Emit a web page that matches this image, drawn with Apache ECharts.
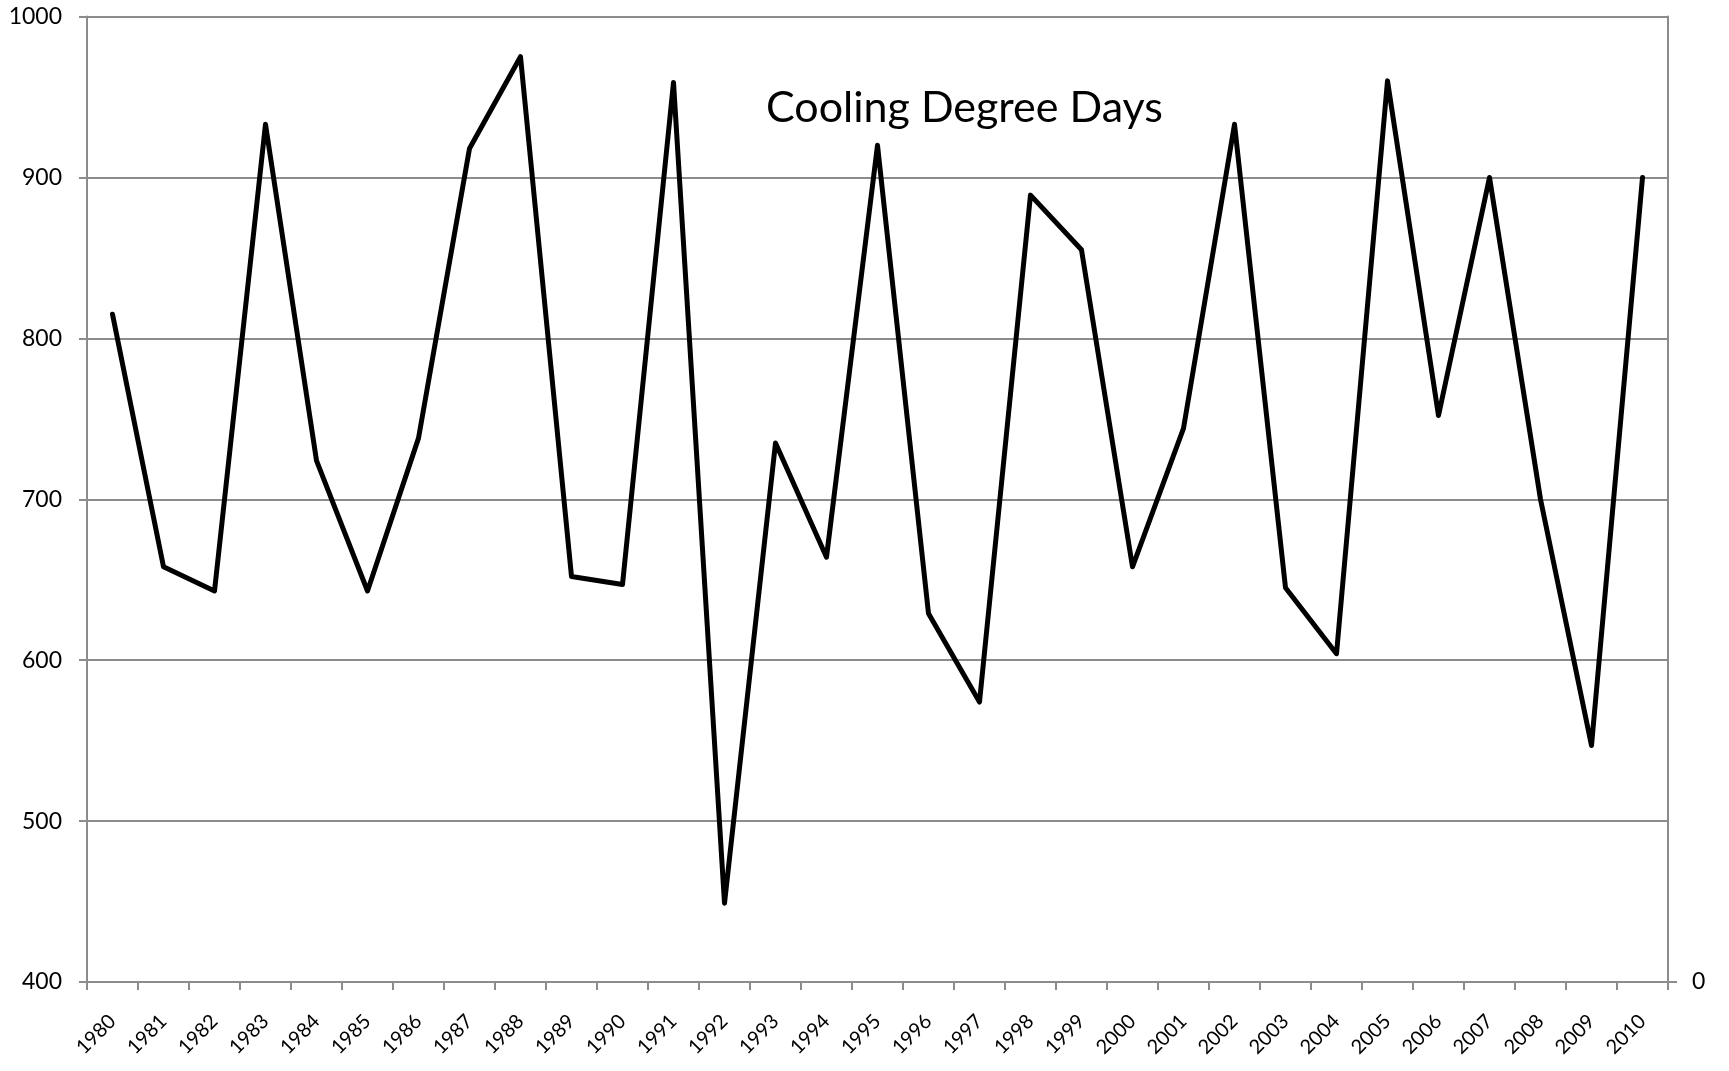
<!DOCTYPE html>
<html>
  <head>
    <meta charset="utf-8">
    <title>Cooling Degree Days</title>
    <script src="https://cdn.jsdelivr.net/npm/echarts@6/dist/echarts.min.js"></script>
    <style>
      html, body { margin: 0; padding: 0; background: #fff; }
      #main { width: 1729px; height: 1071px; }
    </style>
  </head>
  <body>
    <div id="main"></div>
    <script type="text/javascript">
      // years on the category axis
      var years = ['1980', '1981', '1982', '1983', '1984', '1985', '1986', '1987', '1988', '1989',
        '1990', '1991', '1992', '1993', '1994', '1995', '1996', '1997', '1998', '1999',
        '2000', '2001', '2002', '2003', '2004', '2005', '2006', '2007', '2008', '2009', '2010']

      // cooling degree days
      var cdd = [815, 658, 643, 933, 724, 643, 738, 918, 975, 652,
        647, 959, 449, 735, 664, 920, 629, 574, 889, 855,
        658, 744, 933, 645, 604, 960, 752, 900, 700, 547, 900]

      // the empty secondary axis only shows a 0 at its foot
      var rightLabels = ['0', '']

      var titleText = 'Cooling Degree Days'

      var axisGrey = '#8c8c8c'
      var font = 'Lato'

      var myChart = echarts.init(document.getElementById('main'))

      var option = {
        backgroundColor: '#fff',
        animation: false,
        title: {
          text: titleText,
          left: 761,
          top: 82,
          textStyle: {
            fontFamily: font,
            fontWeight: 'normal',
            fontSize: 43,
            color: '#000'
          }
        },
        grid: {
          left: 87,
          right: 61,
          top: 16.5,
          bottom: 89,
          outerBoundsMode: 'none'
        },
        xAxis: {
          type: 'category',
          data: years,
          boundaryGap: true,
          axisLine: { lineStyle: { color: axisGrey, width: 2 } },
          axisTick: { show: true, length: 8, lineStyle: { color: axisGrey, width: 2 } },
          axisLabel: {
            rotate: 45,
            interval: 0,
            margin: 36,
            fontFamily: font,
            fontSize: 20,
            color: '#000'
          },
          splitLine: { show: false }
        },
        yAxis: [{
          type: 'value',
          min: 400,
          max: 1000,
          interval: 100,
          position: 'left',
          axisLine: { show: true, lineStyle: { color: axisGrey, width: 2 } },
          axisTick: { show: true, length: 8, lineStyle: { color: axisGrey, width: 2 } },
          axisLabel: {
            margin: 25,
            fontFamily: font,
            fontSize: 23,
            color: '#000',
            formatter: function (v) { return String(v) }
          },
          splitLine: { show: true, lineStyle: { color: axisGrey, width: 2 } }
        }, {
          type: 'category',
          data: rightLabels,
          boundaryGap: false,
          position: 'right',
          axisLine: { show: true, lineStyle: { color: axisGrey, width: 2 } },
          axisTick: {
            show: true,
            length: 9,
            interval: function (i) { return i === 0 },
            lineStyle: { color: axisGrey, width: 2 }
          },
          axisLabel: {
            margin: 24,
            interval: 0,
            fontFamily: font,
            fontSize: 23,
            color: '#000'
          },
          splitLine: { show: false }
        }],
        series: [{
          name: titleText,
          type: 'line',
          yAxisIndex: 0,
          data: cdd,
          symbol: 'none',
          lineStyle: { color: '#000', width: 5, join: 'round', cap: 'round' }
        }]
      }

      myChart.setOption(option)
    </script>
  </body>
</html>
